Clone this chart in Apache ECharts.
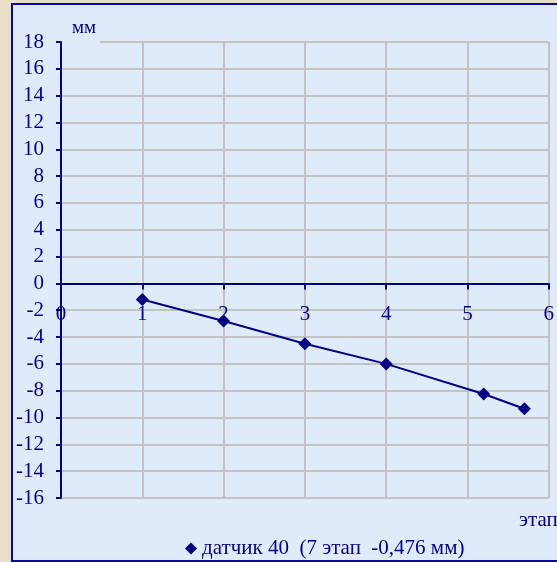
<!DOCTYPE html>
<html>
<head>
<meta charset="utf-8">
<script src="https://cdn.jsdelivr.net/npm/echarts@6/dist/echarts.min.js"></script>
<style>
html,body{margin:0;padding:0;width:557px;height:562px;overflow:hidden;background:#e8dec9;}
#box{position:absolute;left:11px;top:3px;width:560px;height:555px;border:2px solid #0a0a8a;background:#dfeafa;}
#chart{position:absolute;left:0;top:0;width:557px;height:562px;}
</style>
</head>
<body>
<div id="box"></div>
<div id="chart"></div>
<script>
const seriesName = 'датчик 40  (7 этап  -0,476 мм)';
const stageX = [1, 2, 3, 4, 5.2, 5.7];
const displacement = [-1.2, -2.8, -4.5, -6.0, -8.25, -9.35];
const yUnit = 'мм';
const xUnit = 'этап';
const yMin = -16, yMax = 18, yStep = 2;
const xMin = 0, xMax = 6, xStep = 1;

const navy = '#000080';
const font = 'Liberation Serif';
const W = 557, H = 562;
const gridTop = 42, gridBottom = 64;
const gridH = H - gridTop - gridBottom;
// move the x axis (line, ticks, labels) to y = 0
const xAxisOffset = -((0 - yMin) / (yMax - yMin)) * gridH;

const chart = echarts.init(document.getElementById('chart'));
chart.setOption({
  animation: false,
  backgroundColor: 'transparent',
  title: [
    { text: yUnit, left: 62, top: 17, padding: [2, 4, 7, 10], backgroundColor: '#dfeafa',
      textStyle: { color: navy, fontFamily: font, fontSize: 19, fontWeight: 'normal' } },
    { text: xUnit, left: 519, top: 510, padding: 0,
      textStyle: { color: navy, fontFamily: font, fontSize: 21, fontWeight: 'normal' } }
  ],
  legend: {
    left: 180, top: 533, icon: 'diamond', itemWidth: 12, itemHeight: 12, itemGap: 5,
    textStyle: { color: navy, fontFamily: font, fontSize: 21 },
    data: [seriesName]
  },
  grid: { left: 61, right: 3, top: gridTop, bottom: gridBottom, containLabel: false },
  xAxis: {
    type: 'value', min: xMin, max: xMax, interval: xStep,
    offset: xAxisOffset,
    axisLine: { onZero: false, lineStyle: { color: navy, width: 2 } },
    axisTick: { show: true, length: 6, lineStyle: { color: navy, width: 2 } },
    axisLabel: { color: navy, fontFamily: font, fontSize: 21, margin: 21 },
    splitLine: { show: true, lineStyle: { color: '#c3c3c3', width: 2 } }
  },
  yAxis: {
    type: 'value', min: yMin, max: yMax, interval: yStep,
    axisLine: { show: true, onZero: false, lineStyle: { color: navy, width: 2 } },
    axisTick: { show: true, length: 5, lineStyle: { color: navy, width: 2 } },
    axisLabel: { color: navy, fontFamily: font, fontSize: 21, margin: 17 },
    splitLine: { show: true, lineStyle: { color: '#c3c3c3', width: 2 } }
  },
  series: [{
    name: seriesName, type: 'line',
    data: stageX.map((x, i) => [x, displacement[i]]),
    symbol: 'diamond', symbolSize: 13,
    lineStyle: { color: navy, width: 2 },
    itemStyle: { color: navy }
  }]
});
</script>
</body>
</html>
